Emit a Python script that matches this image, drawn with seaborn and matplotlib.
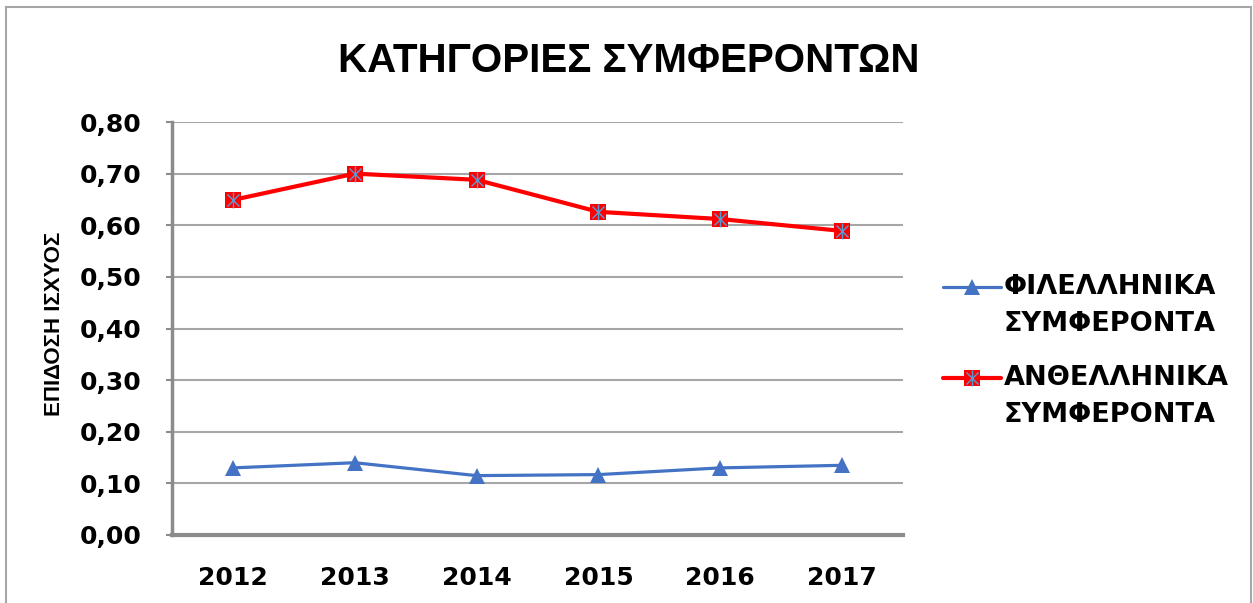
import matplotlib
matplotlib.use("Agg")
import matplotlib.pyplot as plt
from matplotlib.lines import Line2D
from matplotlib.patches import Rectangle
from matplotlib.legend_handler import HandlerLine2D, HandlerTuple
import seaborn as sns
import pandas as pd

years = ["2012", "2013", "2014", "2015", "2016", "2017"]
pro_greek = [0.13, 0.14, 0.115, 0.117, 0.13, 0.135]
anti_greek = [0.649, 0.70, 0.688, 0.626, 0.612, 0.589]
series_names = ["ΦΙΛΕΛΛΗΝΙΚΑ\nΣΥΜΦΕΡΟΝΤΑ", "ΑΝΘΕΛΛΗΝΙΚΑ\nΣΥΜΦΕΡΟΝΤΑ"]
y_ticks = [0.0, 0.1, 0.2, 0.3, 0.4, 0.5, 0.6, 0.7, 0.8]

df = pd.DataFrame({
    "year": years * 2,
    "value": pro_greek + anti_greek,
    "series": [series_names[0]] * len(years) + [series_names[1]] * len(years),
})

sns.set_theme(style="white")
plt.rcParams["font.family"] = ["Liberation Sans", "DejaVu Sans"]

BLUE = "#4472c4"
RED = "#ff0000"
STAR = "#5b9bd5"
HEAVY = ["DejaVu Sans"]


class RaisedLine(HandlerLine2D):
    """Line handler drawn level with the first line of a two-line label."""
    def __init__(self, raise_by, **kw):
        super().__init__(**kw)
        self.raise_by = raise_by

    def create_artists(self, legend, orig_handle, xdescent, ydescent, width,
                       height, fontsize, trans):
        return super().create_artists(legend, orig_handle, xdescent,
                                      ydescent - 2 * self.raise_by * fontsize,
                                      width, height, fontsize, trans)


class RaisedTuple(HandlerTuple):
    def __init__(self, raise_by, **kw):
        super().__init__(**kw)
        self.raise_by = raise_by

    def create_artists(self, legend, orig_handle, xdescent, ydescent, width,
                       height, fontsize, trans):
        return super().create_artists(legend, orig_handle, xdescent,
                                      ydescent - 2 * self.raise_by * fontsize,
                                      width, height, fontsize, trans)


fig = plt.figure(figsize=(12.53, 6.03), dpi=100)
ax = fig.add_axes([172 / 1253, 1 - 535 / 603, (903 - 172) / 1253, (535 - 122) / 603])

# chart frame
fig.patches.append(Rectangle((6 / 1253, -0.05), (1251 - 6) / 1253, 1 - 7 / 603 + 0.05,
                             transform=fig.transFigure, fill=False,
                             edgecolor="#a6a6a6", linewidth=1.5, zorder=0))

sns.lineplot(data=df, x="year", y="value", hue="series", style="series",
             palette={series_names[0]: BLUE, series_names[1]: RED},
             markers={series_names[0]: "^", series_names[1]: "s"},
             dashes=False, ax=ax, legend=False, sort=False)
ax.lines[0].set(linewidth=2.3, markersize=12, markeredgewidth=0)
ax.lines[1].set(linewidth=3.0, markersize=11.5, markeredgewidth=0)
for ln in ax.lines[:2]:
    ln.set_zorder(3)

# star overlay on the red markers
anti = df[df["series"] == series_names[1]]
ax.plot(anti["year"], anti["value"], linestyle="none", marker="x",
        markersize=9, markeredgewidth=1.0, color=STAR, zorder=4)
ax.plot(anti["year"], anti["value"], linestyle="none", marker="|",
        markersize=11, markeredgewidth=1.0, color=STAR, zorder=4)

ax.set_xlim(-0.5, len(years) - 0.5)
ax.set_ylim(0, 0.8)
ax.set_yticks(y_ticks)
ax.set_yticklabels([f"{v:.2f}".replace(".", ",") for v in y_ticks])
ax.yaxis.grid(True, color="#a6a6a6", linewidth=1.5)
ax.xaxis.grid(False)
ax.set_axisbelow(True)

for s in ["top", "right"]:
    ax.spines[s].set_visible(False)
ax.spines["left"].set(color="#8c8c8c", linewidth=2.5)
ax.spines["bottom"].set(color="#8c8c8c", linewidth=3)

ax.tick_params(axis="y", which="major", left=True, length=4, width=1.5,
               color="#8c8c8c", pad=18, labelsize=18)
ax.tick_params(axis="x", bottom=False, pad=16, labelsize=18)
for lbl in ax.get_yticklabels() + ax.get_xticklabels():
    lbl.set_fontweight("bold")
    lbl.set_family(HEAVY)
    lbl.set_color("black")

ax.set_xlabel("")
ax.set_ylabel("ΕΠΙΔΟΣΗ ΙΣΧΥΟΣ", fontsize=16, fontweight="bold", color="black",
              family=["Liberation Sans"])
ax.yaxis.set_label_coords(-107 / 731, 0.51)

fig.text(629 / 1253, 1 - 61 / 603, "ΚΑΤΗΓΟΡΙΕΣ ΣΥΜΦΕΡΟΝΤΩΝ", ha="center", va="center",
         fontsize=29, fontweight="bold", color="black")

# legend
h_blue = Line2D([], [], color=BLUE, linewidth=2.3, marker="^", markersize=12,
                markeredgewidth=0)
h_red = (Line2D([], [], color=RED, linewidth=3.0, marker="s", markersize=11.5,
                markeredgewidth=0),
         Line2D([], [], linestyle="none", marker="x", markersize=9,
                markeredgewidth=1.0, color=STAR),
         Line2D([], [], linestyle="none", marker="|", markersize=11,
                markeredgewidth=1.0, color=STAR))
leg = fig.legend([h_blue, h_red], series_names, loc="center left",
                 bbox_to_anchor=(932 / 1253, 1 - 351 / 603), borderaxespad=0,
                 frameon=False, prop={"size": 19.5, "weight": "bold", "family": HEAVY},
                 handlelength=2.15, handletextpad=0.1, labelspacing=1.03,
                 handler_map={h_blue: RaisedLine(0.70),
                              h_red: RaisedTuple(0.70, ndivide=1, pad=0)})
for t in leg.get_texts():
    t.set_linespacing(1.57)
    t.set_fontweight("bold")
    t.set_family(HEAVY)
    t.set_color("black")

fig.savefig("out.png", dpi=100)
